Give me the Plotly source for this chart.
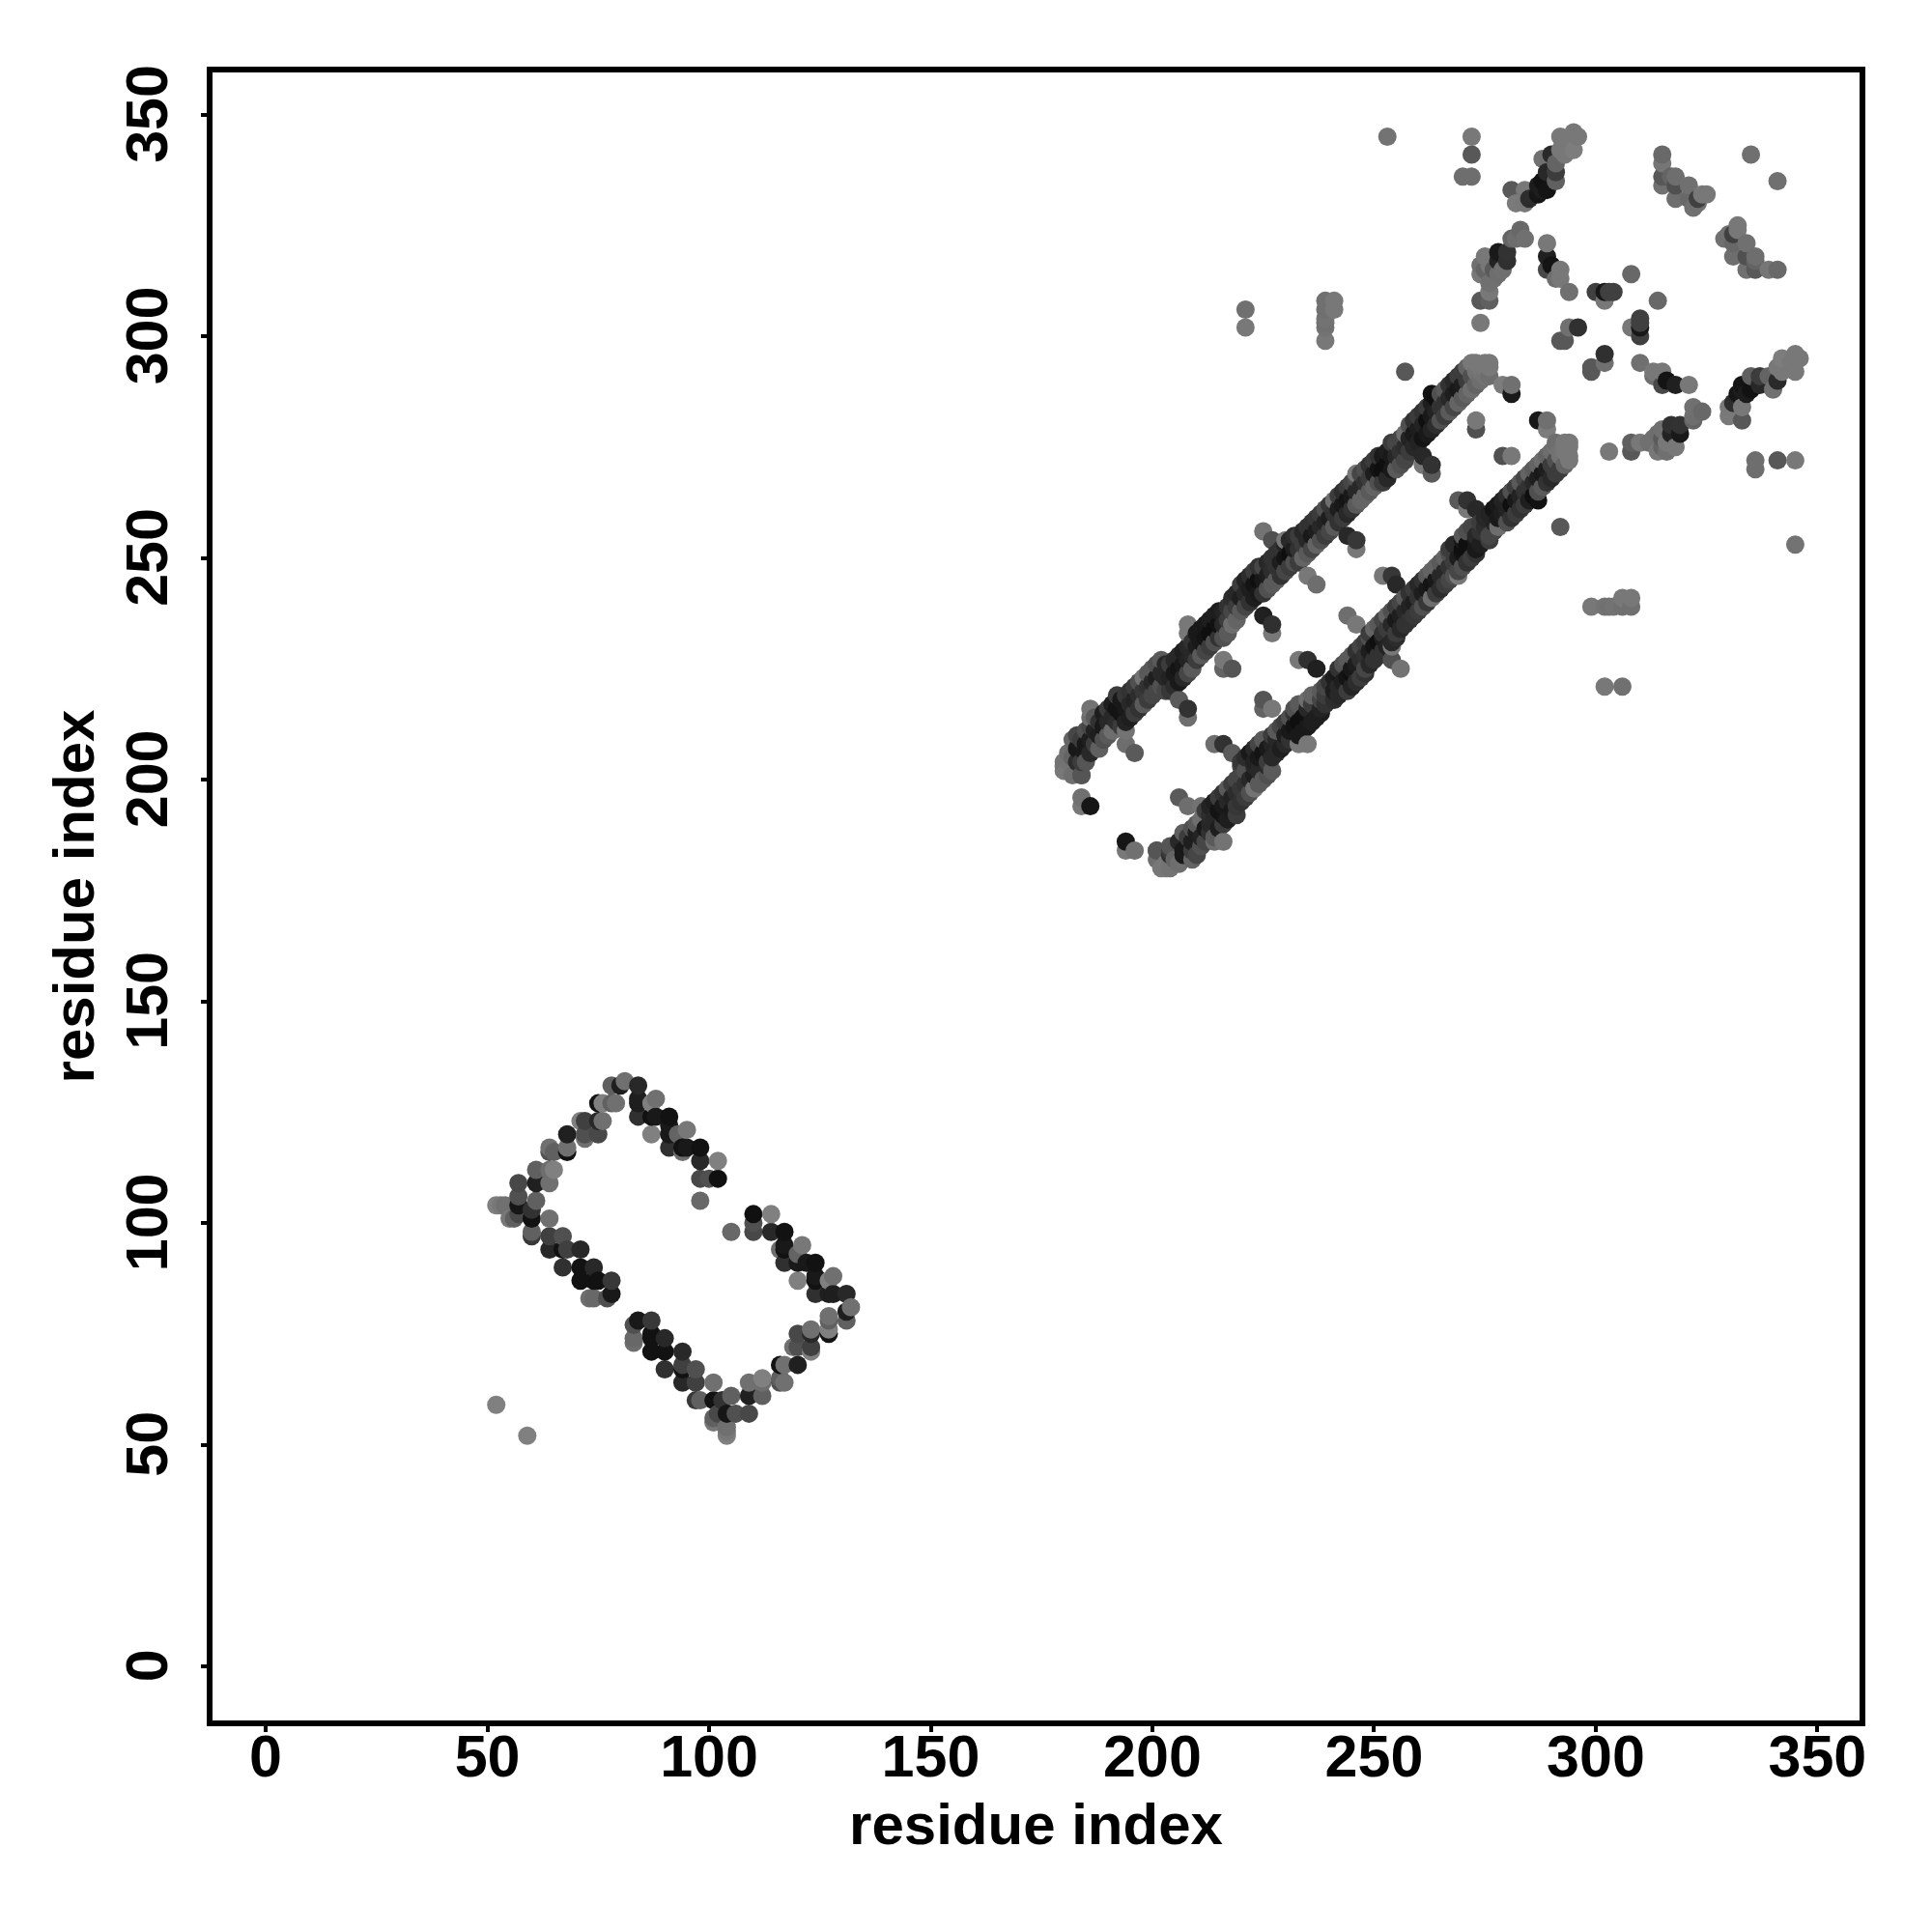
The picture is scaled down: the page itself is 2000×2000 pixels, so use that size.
import plotly.graph_objects as go

# Contacts are listed for i < j; the map is symmetric.
rect_i = [52,78,80,81,84,75,76,78,79,84,84,88,87,84,87,88,91,91,95,87,91,93,91,94,95,98,94,98,102,98,100,102,98,
          72,71,75,76,68,72,75,72,64,68,68,64,65,61,65,64,57,61,64,52,53,54,57,57,61,60,55,56,57,60,64,60,60,
          64,67,64,68,67,71,67,71,74,71,74,75,78,78,74,73,77]
rect_j = [59,131,131,132,131,127,127,127,127,128,127,128,127,124,124,124,124,122,121,120,120,120,117,117,117,117,116,114,114,110,110,110,105,
          123,123,123,123,120,120,120,119,117,117,116,116,116,112,112,112,109,109,109,104,104,104,106,104,105,103,101,101,102,101,101,98,97,
          97,97,94,94,94,94,90,90,90,87,87,87,87,84,83,83,83]
rect_g = [128,96,30,112,40,20,128,96,112,30,30,112,128,48,18,25,18,25,120,128,25,100,48,18,25,18,110,40,128,72,80,16,104,
          64,128,40,112,32,80,72,112,112,112,18,80,96,96,128,110,72,32,112,128,120,112,80,22,96,50,120,96,72,18,112,96,56,
          64,80,40,64,18,40,48,18,40,18,18,18,56,25,104,110,80]

band_residue = [181,182,183,184,185,186,187,188,189,190,191,192,193,194,195,196,197,198,199,200,201,202,203,204,
                205,206,207,208,209,210,211,212,213,214,215,216,217,218,219,220,221,222,223,224,225,226,227,228,
                229,230,231,232,233,234,235,236,237,238,239,240,241,242,243,244,245,246,247,248,249,250,251,252,
                253,254,255,256,257,258,259,260,261,262,263,264,265,266,267,268,269,270,271,272,273,274,275,276]
band_low = [203,201,204,201,204,206,208,207,209,210,211,213,212,213,214,215,216,217,218,219,220,221,220,220,
            221,222,223,224,225,227,228,229,230,231,232,232,233,235,236,238,239,240,241,242,242,243,244,245,
            246,247,248,249,249,250,251,252,253,254,255,256,257,258,259,260,261,262,263,264,265,266,267,267,
            268,270,270,271,272,274,275,276,277,278,279,280,281,282,283,284,285,286,287,288,289,290,291,291]
band_mid = [204,205,207,204,208,209,211,210,212,213,214,216,215,216,217,218,219,220,221,222,223,224,223,223,
            224,225,226,227,228,230,231,232,233,234,235,235,236,238,239,241,242,243,244,245,245,246,247,248,
            249,250,251,252,252,253,254,255,256,257,258,259,260,261,262,263,264,265,266,267,268,269,270,270,
            271,273,273,274,275,277,278,279,280,281,282,283,284,285,286,287,288,289,290,291,292,292,293,293]
band_high = [206,209,210,207,211,212,214,213,215,216,217,219,218,219,220,221,222,223,224,225,226,227,226,226,
             227,228,229,230,231,233,234,235,236,237,238,238,239,241,242,244,245,246,247,248,248,249,250,251,
             252,253,254,255,255,256,257,258,259,260,261,262,263,264,265,266,267,268,269,270,271,272,273,273,
             274,276,276,277,278,280,281,282,283,284,285,286,287,288,289,290,291,292,293,294,294,293,294,294]
band_low_g = [120,110,45,95,85,40,60,95,80,90,110,45,60,35,30,60,50,90,60,70,70,80,70,55,
              45,25,40,70,90,60,90,70,60,80,50,80,90,110,100,90,70,50,30,25,50,80,90,90,
              50,70,60,80,60,100,90,70,100,80,60,70,90,50,60,40,50,90,100,100,90,100,80,60,
              40,25,90,80,70,60,40,35,20,25,35,45,80,60,90,70,100,90,100,110,100,110,115,110]
band_mid_g = [115,100,25,60,25,30,35,30,25,40,40,20,20,25,40,35,45,55,50,40,30,40,40,35,
              25,20,25,35,40,30,25,20,15,15,18,40,60,70,60,30,40,30,20,15,25,30,45,50,
              30,20,15,30,50,60,40,25,30,40,35,30,50,30,25,20,25,40,40,50,60,30,20,15,
              15,25,40,50,45,35,25,30,35,15,25,35,50,50,40,30,25,30,60,80,115,115,120,120]
band_high_g = [110,100,70,25,80,70,90,50,30,60,30,60,25,55,50,60,80,115,90,90,80,90,40,60,
               40,40,30,40,50,25,25,25,30,30,30,35,50,45,40,60,35,45,60,50,70,40,50,50,
               50,35,40,45,60,40,50,50,55,60,80,55,110,60,45,60,70,80,70,80,50,60,50,25,
               30,60,70,70,110,80,50,60,50,60,30,15,80,90,50,40,60,60,100,120,120,120,120,120]

extra_i = [180,180,180,184,184,184,184,186,186,186,194,194,196,206,208,208,208,208,216,216,218,225,227,227,225,227,230,
           235,237,246,246,246,244,261,263,263,261,263,273,273,279,281,281,257,253,272,272,270,272,
           221,221,239,239,239,239,239,239,241,241]
extra_j = [202,203,204,201,209,194,196,194,214,216,211,208,206,218,216,214,233,235,225,227,225,237,235,233,256,254,254,
           246,244,254,252,269,255,271,271,269,273,287,279,281,289,289,287,292,345,345,341,336,336,
           302,306,299,302,303,304,306,308,306,308]
extra_g = [120,120,115,85,60,120,112,22,110,115,115,110,90,90,50,110,120,120,100,120,85,32,48,120,115,80,120,
           120,110,55,120,120,40,120,50,90,40,18,80,120,124,112,25,88,115,120,88,110,110,
           120,112,120,115,112,115,112,112,120,120]

tip_i = [281,282,284,284,285,287,287,288,288,289,290,291,291,291,292,292,293,294,295,295,296,288,289,
         315,315,315,315,317,318,318,318,321,321,322,323,323,324,325,335]
tip_j = [333,330,330,333,331,332,334,335,333,333,341,335,337,339,345,342,341,344,346,342,345,340,337,
         341,339,336,334,336,336,331,334,334,331,329,331,330,332,332,341]
tip_g = [88,122,120,120,45,22,28,18,30,20,42,96,60,100,120,120,120,120,120,125,120,112,40,
         105,118,88,112,100,110,110,80,112,104,112,64,112,120,120,112]

side_i = [283,284,282,281,278,280,280,275,279,274,276,277,274,276,274,276,276,274,277,278,275,278,
          289,289,289,290,292,292,291,294,300,302,303,304,302,308,294,296,292,293]
side_j = [324,322,322,322,319,319,317,318,315,316,316,313,314,312,308,308,310,303,315,317,315,314,
          321,318,315,316,315,313,313,310,310,308,310,310,310,314,302,302,299,299]
side_g = [104,112,110,100,25,50,48,120,112,112,120,112,120,112,88,96,120,120,90,35,100,110,
          120,32,72,20,120,120,110,112,64,120,64,64,24,104,112,48,88,88]

tick_values = [0, 50, 100, 150, 200, 250, 300, 350]
axis_title = "residue index"

band_i = band_residue * 3
band_j = band_low + band_mid + band_high
band_g = band_low_g + band_mid_g + band_high_g

all_i = rect_i + band_i + extra_i + tip_i + side_i
all_j = rect_j + band_j + extra_j + tip_j + side_j
all_g = rect_g + band_g + extra_g + tip_g + side_g

points = [(i, j, g) for i, j, g in zip(all_i, all_j, all_g)] + [(j, i, g) for i, j, g in zip(all_i, all_j, all_g)]
points.sort(key=lambda p: (p[0], p[1]))

fig = go.Figure(go.Scatter(
    x=[p[0] for p in points],
    y=[p[1] for p in points],
    mode="markers",
    marker=dict(size=19, color=[f"rgb({p[2]},{p[2]},{p[2]})" for p in points], line=dict(width=0)),
    hoverinfo="skip",
))

axis_style = dict(
    tickmode="array", tickvals=tick_values,
    showgrid=False, zeroline=False, showline=True, mirror=True, linecolor="black", linewidth=6,
    ticks="outside", ticklen=6, tickwidth=4, tickcolor="black",
    tickfont=dict(family="Liberation Sans", size=61, color="black", weight="bold"),
    title=dict(text=axis_title, font=dict(family="Liberation Sans", size=60, color="black", weight="bold")),
)

fig.update_layout(
    width=2000, height=2000, autosize=False,
    paper_bgcolor="white", plot_bgcolor="white", showlegend=False,
    margin=dict(l=220, r=75, t=75, b=219),
    xaxis=dict(range=[-12, 359.5], tickangle=0, ticklabelstandoff=-27,
               ticktext=[str(v) for v in tick_values], **axis_style),
    yaxis=dict(range=[-12.2, 359.5], tickangle=-90, ticklabelstandoff=11,
               ticktext=[str(v) + "\u00a0" for v in tick_values], **axis_style),
)
fig.update_xaxes(title_standoff=18)
fig.update_yaxes(title_standoff=3)

fig.write_html("out.html", config={"displayModeBar": False},
               post_script="document.body.style.margin='0';")
